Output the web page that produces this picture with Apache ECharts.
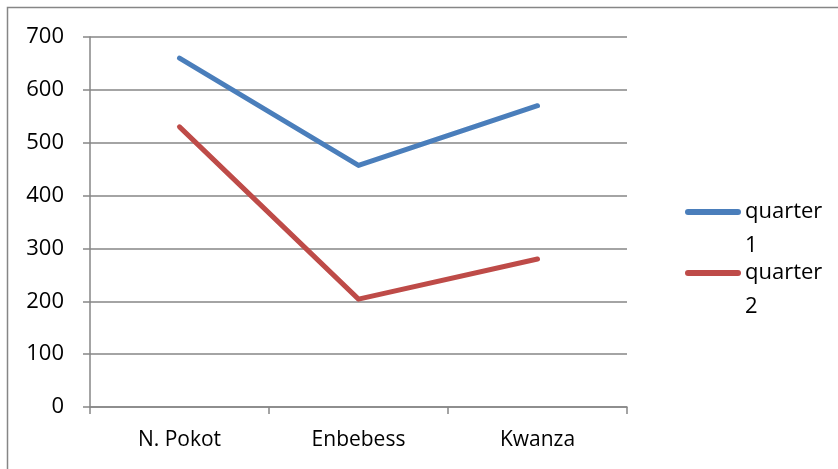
<!DOCTYPE html>
<html>
<head>
<meta charset="utf-8">
<style>
  html, body { margin: 0; padding: 0; background: #ffffff; }
  #chart { width: 838px; height: 469px; }
</style>
<script src="https://cdn.jsdelivr.net/npm/echarts@6/dist/echarts.min.js"></script>
</head>
<body>
<div id="chart"></div>
<script>
// Sites and quarterly figures
const categories = ['N. Pokot', 'Enbebess', 'Kwanza'];
const quarter1 = [660, 457, 570];
const quarter2 = [530, 204, 280];
const seriesNames = ['quarter 1', 'quarter 2'];
const yTicks = { min: 0, max: 700, interval: 100 };

const FONT = '"Open Sans", Lato, sans-serif';
const AXIS_GREY = '#868686';
const LINE_W = 5;
const COLORS = ['#4a7ebb', '#be4b48'];

const chart = echarts.init(document.getElementById('chart'), null, { renderer: 'canvas' });

// Legend on the right: round-capped swatch followed by a wrapped name
const LEGEND_X = 688, LEGEND_Y = 212, LEGEND_STEP = 61, LEGEND_LH = 34;
const legendGraphics = seriesNames.map((name, i) => ({
  type: 'group',
  x: LEGEND_X,
  y: LEGEND_Y + i * LEGEND_STEP,
  silent: true,
  children: [
    {
      type: 'line',
      shape: { x1: 0, y1: 0, x2: 50, y2: 0 },
      style: { stroke: COLORS[i], lineWidth: 6, lineCap: 'round' }
    },
    {
      type: 'text',
      x: 57,
      y: -LEGEND_LH / 2,
      style: {
        text: name.replace(' ', '\n'),
        fontFamily: FONT,
        fontSize: 22,
        lineHeight: LEGEND_LH,
        fill: '#000',
        align: 'left',
        verticalAlign: 'top'
      }
    }
  ]
}));

chart.setOption({
  animation: false,
  backgroundColor: '#ffffff',
  graphic: [{
    type: 'rect',
    shape: { x: 7.5, y: 7.5, width: 860, height: 500 },
    style: { fill: 'none', stroke: AXIS_GREY, lineWidth: 1.5 },
    silent: true,
    z: -1
  }].concat(legendGraphics),
  grid: { left: 90, top: 37, right: 211, bottom: 62, containLabel: false },
  legend: { show: false, data: seriesNames },
  xAxis: {
    type: 'category',
    data: categories,
    boundaryGap: true,
    axisLine: { lineStyle: { color: AXIS_GREY, width: 1.5 } },
    axisTick: { show: true, length: 7, inside: false, lineStyle: { color: AXIS_GREY, width: 1.5 } },
    axisLabel: { fontFamily: FONT, fontSize: 21, color: '#000', margin: 23 },
    splitLine: { show: false }
  },
  yAxis: {
    type: 'value',
    min: yTicks.min,
    max: yTicks.max,
    interval: yTicks.interval,
    axisLine: { show: true, lineStyle: { color: AXIS_GREY, width: 1.5 } },
    axisTick: { show: true, length: 7, lineStyle: { color: AXIS_GREY, width: 1.5 } },
    axisLabel: { fontFamily: FONT, fontSize: 22, color: '#000', margin: 26 },
    splitLine: { show: true, lineStyle: { color: AXIS_GREY, width: 1.5 } }
  },
  series: [
    {
      name: seriesNames[0],
      type: 'line',
      data: quarter1,
      symbol: 'none',
      lineStyle: { color: COLORS[0], width: LINE_W, cap: 'round', join: 'round' },
      itemStyle: { color: COLORS[0] }
    },
    {
      name: seriesNames[1],
      type: 'line',
      data: quarter2,
      symbol: 'none',
      lineStyle: { color: COLORS[1], width: LINE_W, cap: 'round', join: 'round' },
      itemStyle: { color: COLORS[1] }
    }
  ]
});
</script>
</body>
</html>
